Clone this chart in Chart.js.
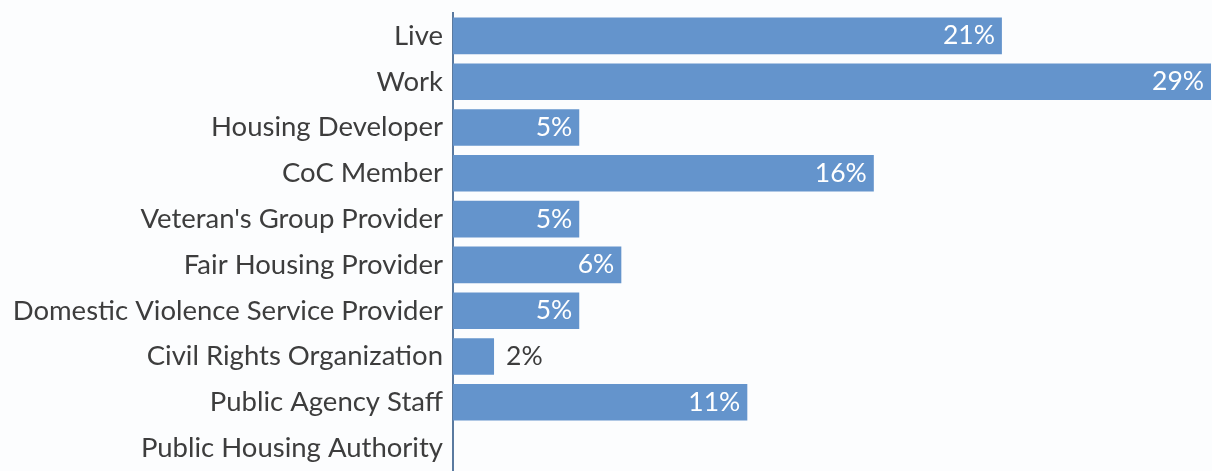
<!DOCTYPE html>
<html>
<head>
<meta charset="utf-8">
<script src="https://cdn.jsdelivr.net/npm/chart.js@4/dist/chart.umd.min.js"></script>
<style>
  html, body {
    margin: 0;
    padding: 0;
    background: #fcfdfe;
  }
  #container {
    position: relative;
    width: 1212px;
    height: 471px;
    overflow: hidden;
  }
</style>
</head>
<body>
<div id="container"><canvas id="canvas"></canvas></div>
<script>
  var categories = [
    'Live',
    'Work',
    'Housing Developer',
    'CoC Member',
    "Veteran's Group Provider",
    'Fair Housing Provider',
    'Domestic Violence Service Provider',
    'Civil Rights Organization',
    'Public Agency Staff',
    'Public Housing Authority'
  ];
  var shares = [21.0, 29.0, 4.83, 16.1, 4.83, 6.44, 4.83, 1.57, 11.26, 0];

  var barColor = 'rgb(100, 148, 204)';
  var textColor = '#3d3d3d';
  var fontFamily = 'Lato, "Open Sans", sans-serif';

  // value labels: inside the bar end in white, or just past it when the bar is too short
  var valueLabels = {
    id: 'valueLabels',
    afterDatasetsDraw: function(chart) {
      var ctx = chart.ctx;
      var meta = chart.getDatasetMeta(0);
      ctx.save();
      ctx.font = '26.5px ' + fontFamily;
      ctx.textBaseline = 'middle';
      meta.data.forEach(function(bar, i) {
        var v = shares[i];
        if (!v) return;
        var text = Math.round(v) + '%';
        var w = ctx.measureText(text).width;
        var barWidth = bar.x - bar.base;
        if (w + 14 < barWidth) {
          ctx.fillStyle = '#ffffff';
          ctx.textAlign = 'right';
          ctx.fillText(text, bar.x - 7, bar.y);
        } else {
          ctx.fillStyle = textColor;
          ctx.textAlign = 'left';
          ctx.fillText(text, bar.x + 12, bar.y);
        }
      });
      ctx.restore();
    }
  };

  var ctx = document.getElementById('canvas').getContext('2d');
  new Chart(ctx, {
    type: 'bar',
    data: {
      labels: categories,
      datasets: [{
        label: 'Share',
        data: shares,
        backgroundColor: barColor,
        borderWidth: 0,
        barPercentage: 0.8,
        categoryPercentage: 1.0
      }]
    },
    options: {
      indexAxis: 'y',
      animation: false,
      responsive: true,
      maintainAspectRatio: false,
      layout: {
        padding: { top: 13, right: 1, bottom: 0, left: 0 }
      },
      plugins: {
        legend: { display: false },
        tooltip: { enabled: false }
      },
      scales: {
        x: {
          display: false,
          min: 0,
          max: 29
        },
        y: {
          afterFit: function(scale) {
            scale.width = 453;
            scale.paddingTop = 0;
            scale.paddingBottom = 0;
          },
          grid: {
            display: true,
            drawOnChartArea: false,
            drawTicks: false
          },
          border: {
            display: true,
            color: '#5a7aa0',
            width: 2
          },
          ticks: {
            color: textColor,
            padding: 10,
            font: { family: fontFamily, size: 27.5 }
          }
        }
      }
    },
    plugins: [valueLabels]
  });
</script>
</body>
</html>
